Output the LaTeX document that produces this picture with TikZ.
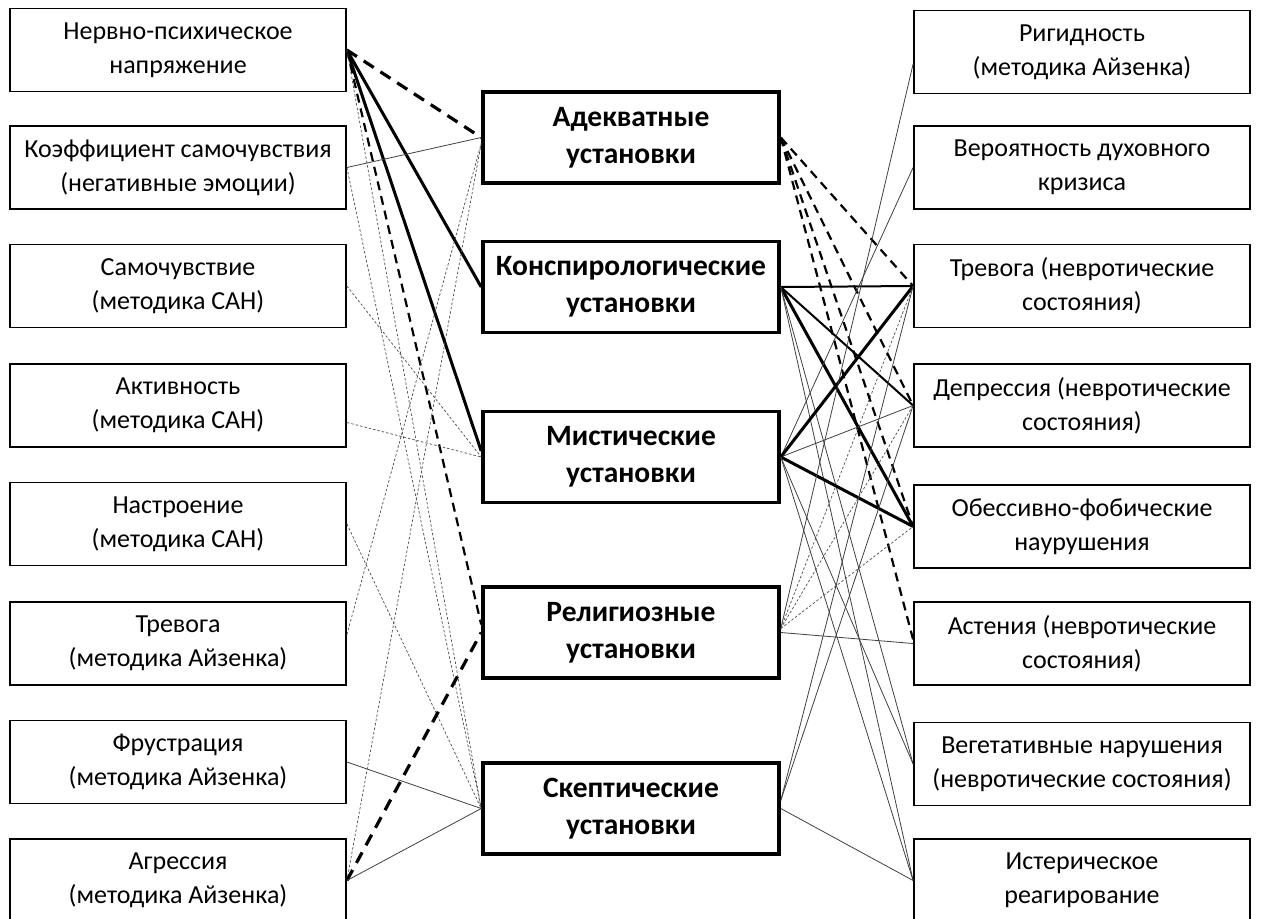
\documentclass[tikz,border=0pt]{standalone}
\usepackage{fontspec}
\setmainfont{Carlito}
\begin{document}
\begin{tikzpicture}[x=1pt,y=-1pt,
 side/.style={draw, line width=1.8pt, fill=white, minimum width=336pt, minimum height=83pt, align=center, inner sep=0pt, font=\fontsize{26}{34}\selectfont},
 mid/.style={draw, line width=3.6pt, fill=white, minimum width=296pt, minimum height=91pt, align=center, inner sep=0pt, font=\bfseries\fontsize{29.5}{37}\selectfont},
 thk/.style={line width=3pt},
 mthk/.style={line width=2pt},
 thkdash/.style={line width=3.2pt, dash pattern=on 12pt off 8pt},
 mdash/.style={line width=2.2pt, dash pattern=on 9pt off 6pt},
 thinl/.style={line width=0.8pt, black!75},
 dotl/.style={line width=0.7pt, black!70, dash pattern=on 2.5pt off 2pt}]
\useasboundingbox (0,0) rectangle (1262,919);
% left column
\node[side] (L1) at (178,50) {Нервно-психическое\\напряжение};
\node[side] (L2) at (178,167.5) {Коэффициент самочувствия\\(негативные эмоции)};
\node[side] (L3) at (178,286) {Самочувствие\\(методика САН)};
\node[side] (L4) at (178,405.5) {Активность\\(методика САН)};
\node[side] (L5) at (178,524) {Настроение\\(методика САН)};
\node[side] (L6) at (178,643.5) {Тревога\\(методика Айзенка)};
\node[side] (L7) at (178,762) {Фрустрация\\(методика Айзенка)};
\node[side] (L8) at (178,880.5) {Агрессия\\(методика Айзенка)};
% centre column
\node[mid] (cA) at (631,137.5) {Адекватные\\установки};
\node[mid] (cK) at (631,287) {Конспирологические\\установки};
\node[mid] (cM) at (631,457) {Мистические\\установки};
\node[mid] (cR) at (631,632.5) {Религиозные\\установки};
\node[mid] (cS) at (631,808.5) {Скептические\\установки};
% right column
\node[side] (R1) at (1082,52) {Ригидность\\(методика Айзенка)};
\node[side] (R2) at (1082,167.5) {Вероятность духовного\\кризиса};
\node[side] (R3) at (1082,286) {Тревога (невротические\\состояния)};
\node[side] (R4) at (1082,405.5) {Депрессия (невротические\\состояния)};
\node[side] (R5) at (1082,526.5) {Обессивно-фобические\\наурушения};
\node[side] (R6) at (1082,643.5) {Астения (невротические\\состояния)};
\node[side] (R7) at (1082,764) {Вегетативные нарушения\\(невротические состояния)};
\node[side] (R8) at (1082,880.5) {Истерическое\\реагирование};
% left connectors
\draw[thkdash] (L1.east) -- (cA.west);
\draw[thk] (L1.east) -- (cK.west);
\draw[thk] (L1.east) -- ([yshift=6pt]cM.west);
\draw[mdash] (L1.east) -- ([yshift=8pt]cR.west);
\draw[dotl] (L1.east) -- (cS.west);
\draw[thinl] (L2.east) -- (cA.west);
\draw[dotl] (L2.east) -- (cS.west);
\draw[dotl] (L3.east) -- (cM.west);
\draw[dotl] ([yshift=-17pt]L4.east) -- (cM.west);
\draw[dotl] (L5.east) -- (cS.west);
\draw[dotl] ([yshift=9pt]L6.east) -- ([yshift=-6pt]cA.west);
\draw[thinl] (L7.east) -- (cS.west);
\draw[dotl] (L8.east) -- ([yshift=-6pt]cA.west);
\draw[thkdash] (L8.east) -- (cR.west);
\draw[thinl] (L8.east) -- (cS.west);
% right connectors
\draw[mdash] (cA.east) -- (R3.west);
\draw[mdash] (cA.east) -- (R4.west);
\draw[mdash] (cA.east) -- (R5.west);
\draw[mdash] (cA.east) -- ([yshift=4pt]R6.west);
\draw[mthk] (cK.east) -- (R3.west);
\draw[mthk] (cK.east) -- (R4.west);
\draw[thk] (cK.east) -- (R5.west);
\draw[thinl] (cK.east) -- (R7.west);
\draw[thinl] (cK.east) -- (R8.west);
\draw[thinl] (cM.east) -- (R2.west);
\draw[thk] (cM.east) -- (R3.west);
\draw[thinl] (cM.east) -- (R4.west);
\draw[thk] (cM.east) -- (R5.west);
\draw[thinl] (cM.east) -- (R7.west);
\draw[thinl] (cM.east) -- (R8.west);
\draw[thinl] ([yshift=4pt]cR.east) -- ([yshift=-12pt]R1.west);
\draw[dotl] ([yshift=4pt]cR.east) -- (R3.west);
\draw[dotl] ([yshift=4pt]cR.east) -- (R4.west);
\draw[dotl] ([yshift=4pt]cR.east) -- (R5.west);
\draw[thinl] (cR.east) -- (R6.west);
\draw[thinl] ([yshift=8pt]cS.east) -- (R3.west);
\draw[thinl] ([yshift=8pt]cS.east) -- (R4.west);
\draw[thinl] (cS.east) -- (R8.west);
\end{tikzpicture}
\end{document}
